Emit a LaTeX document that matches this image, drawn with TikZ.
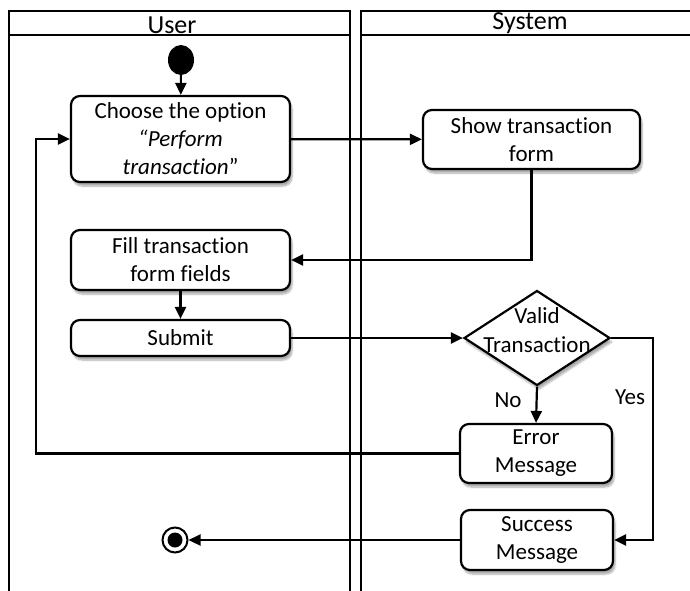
\documentclass[tikz,border=0pt]{standalone}
\usepackage{fontspec}
\setmainfont{Carlito}[Ligatures={NoCommon}]
\usetikzlibrary{arrows.meta,shapes.geometric,shadows.blur}
\begin{document}
\begin{tikzpicture}[x=1pt,y=-1pt,
  every node/.style={font=\fontsize{23}{28}\selectfont},
  head/.style={inner sep=0pt,font=\fontsize{26}{28}\selectfont},
  lane/.style={line width=2.2pt},
  act/.style={draw,line width=2.2pt,rounded corners=9pt,fill=white,align=center,inner sep=0pt,
    blur shadow={shadow xshift=2pt,shadow yshift=-4pt,shadow blur steps=6,shadow opacity=35}},
  arr/.style={line width=2.2pt,-{Triangle[length=12pt,width=11pt]}},
  lbl/.style={inner sep=0pt}]
\useasboundingbox (0,0) rectangle (690,590);
% swimlanes
\draw[lane] (9,592) -- (9,11) -- (350,11) -- (350,592);
\draw[lane] (9,35) -- (350,35);
\draw[lane] (361,592) -- (361,11) -- (692,11);
\draw[lane] (361,35) -- (692,35);
\node[head] (userh) at (172,25) {User};
\node[head] (sysh) at (530,23.5) {System};
% start / end
\node[ellipse,fill=black,minimum width=26pt,minimum height=30pt,inner sep=0pt] (start) at (181,60) {};
\node[circle,draw,line width=2pt,minimum size=25pt,inner sep=0pt] (final) at (175,540) {};
\fill (final.center) circle (7.5pt);
% activities
\node[act,minimum width=219pt,minimum height=86pt] (choose) at (180.5,139) {Choose the option\\\textit{“Perform}\\\textit{transaction}”};
\node[act,minimum width=217pt,minimum height=59pt] (show) at (531.5,139.5) {Show transaction\\form};
\node[act,minimum width=219pt,minimum height=60pt] (fill) at (180.5,260) {Fill transaction\\form fields};
\node[act,minimum width=219pt,minimum height=36pt] (submit) at (180.5,338) {Submit};
\node[diamond,draw,line width=2.2pt,fill=white,minimum width=146pt,minimum height=95pt,inner sep=0pt,
  blur shadow={shadow xshift=2pt,shadow yshift=-4pt,shadow blur steps=6,shadow opacity=35},
  label={[align=center,yshift=8pt,font=\fontsize{23}{28}\selectfont]center:Valid\\[1pt]Transaction}] (dec) at (537,338) {};
\node[act,minimum width=152pt,minimum height=59pt] (err) at (536,453.5) {Error\\Message};
\node[act,minimum width=152pt,minimum height=60pt] (succ) at (537,540) {Success\\Message};
% guards
\node[lbl] (no) at (508,400) {No};
\node[lbl] (yes) at (630,397) {Yes};
% bend points
\coordinate (yesc) at (653,338);
\coordinate (loopc) at (36,453.5);
% flows
\draw[arr] (start) -- (choose);
\draw[arr] (choose) -- (show);
\draw[arr] (show.south) |- (fill.east);
\draw[arr] (fill) -- (submit);
\draw[arr] (submit) -- (dec);
\draw[arr] (dec.south) -- (err.north);
\draw[arr] (dec.east) -- (yesc) |- (succ.east);
\draw[arr] (err.west) -- (loopc) |- (choose.west);
\draw[arr] (succ.west) -- (final.east);
\end{tikzpicture}
\end{document}
